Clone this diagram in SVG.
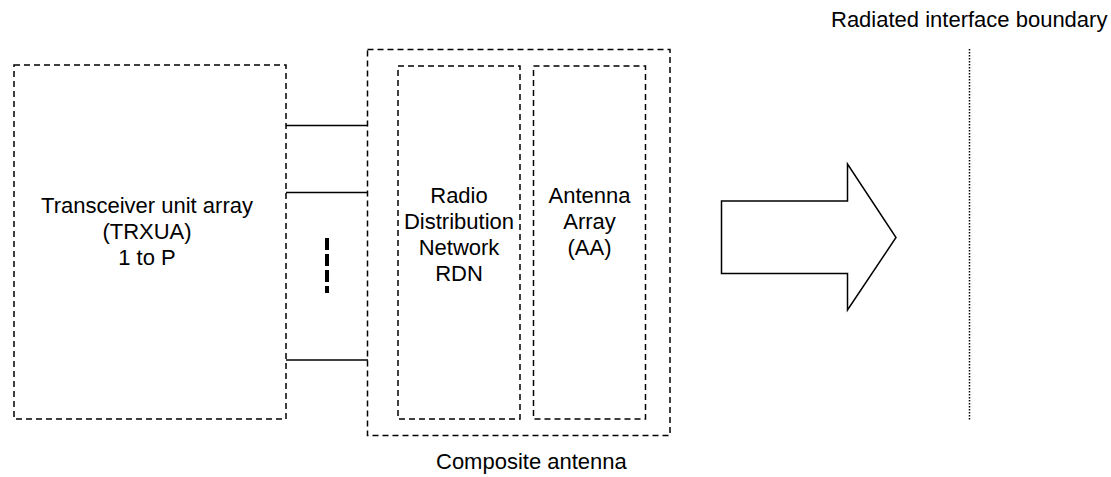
<svg xmlns="http://www.w3.org/2000/svg" width="1111" height="477" viewBox="0 0 1111 477">
<style>
.box{fill:none;stroke:#000;stroke-width:1.5;stroke-dasharray:6 4}
.lbl{font-family:"Liberation Sans",Arial,sans-serif;font-size:22px;fill:#000}
.mid{text-anchor:middle}
.wire{stroke:#000;stroke-width:1.5;fill:none}
</style>
<rect width="1111" height="477" fill="#fff"/>
<g id="trxua">
<rect class="box" x="14" y="65" width="272" height="354"/>
<text class="lbl mid" x="147" y="213">Transceiver unit array</text>
<text class="lbl mid" x="147" y="239">(TRXUA)</text>
<text class="lbl mid" x="147" y="265">1 to P</text>
</g>
<g id="composite">
<rect class="box" x="367.5" y="49.5" width="302.5" height="386"/>
<text class="lbl" x="436" y="469">Composite antenna</text>
</g>
<g id="rdn">
<rect class="box" x="398" y="66" width="122" height="353"/>
<text class="lbl mid" x="459" y="203">Radio</text>
<text class="lbl mid" x="459" y="229">Distribution</text>
<text class="lbl mid" x="459" y="255">Network</text>
<text class="lbl mid" x="459" y="281">RDN</text>
</g>
<g id="aa">
<rect class="box" x="533.5" y="66" width="112" height="353"/>
<text class="lbl mid" x="589.5" y="203">Antenna</text>
<text class="lbl mid" x="589.5" y="229">Array</text>
<text class="lbl mid" x="589.5" y="255">(AA)</text>
</g>
<g id="connectors">
<line class="wire" x1="286" y1="125.5" x2="368" y2="125.5" stroke-width="2.5"/>
<line class="wire" x1="286" y1="192.5" x2="368" y2="192.5"/>
<line class="wire" x1="286" y1="360" x2="368" y2="360"/>
<line x1="327" y1="238" x2="327" y2="293" stroke="#000" stroke-width="4" stroke-dasharray="12 4"/>
</g>
<g id="arrow">
<polygon points="721.5,201 847.5,201 847.5,164 896,237.5 847.5,310 847.5,273.5 721.5,273.5" fill="#fff" stroke="#000" stroke-width="1.5"/>
</g>
<g id="boundary">
<line x1="969.5" y1="49" x2="969.5" y2="420" stroke="#000" stroke-width="1.5" stroke-dasharray="1.5 1.5"/>
<text class="lbl" x="831" y="27">Radiated interface boundary</text>
</g>
</svg>
